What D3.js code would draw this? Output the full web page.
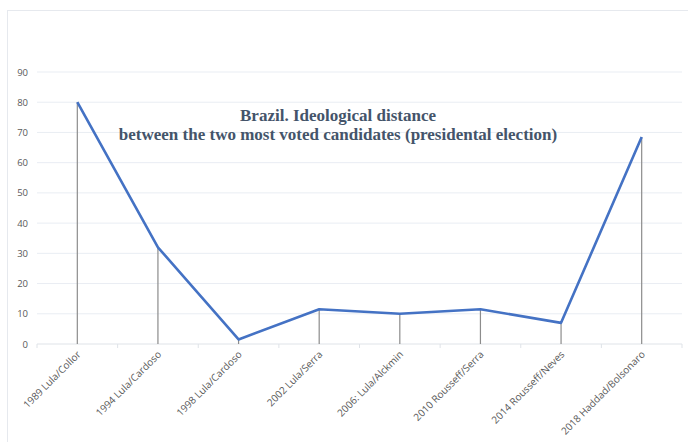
<!DOCTYPE html>
<html>
<head>
<meta charset="utf-8">
<script src="https://cdn.jsdelivr.net/npm/d3@7"></script>
<style>
  body { margin: 0; background: #fff; }
</style>
</head>
<body>
<div id="chart"></div>
<script>
const elections = ["1989 Lula/Collor", "1994 Lula/Cardoso", "1998 Lula/Cardoso", "2002 Lula/Serra",
  "2006: Lula/Alckmin", "2010 Rousseff/Serra", "2014 Rousseff/Neves", "2018 Haddad/Bolsonaro"]
const distance = [80, 32, 1.5, 11.5, 10, 11.5, 7, 68.5]
const yTicks = [0, 10, 20, 30, 40, 50, 60, 70, 80, 90]
const titleLines = ["Brazil. Ideological distance", "between the two most voted candidates (presidental election)"]

const W = 688, H = 442
const MARGIN = {TOP: 72, BOTTOM: 98, LEFT: 37, RIGHT: 6}

const svg = d3.select("#chart").append("svg")
  .attr("width", W).attr("height", H)

// chart frame
svg.append("rect")
  .attr("x", 7.5).attr("y", 10.5)
  .attr("width", W).attr("height", H)
  .attr("fill", "#fff").attr("stroke", "#e6e9ee")

const x = d3.scaleBand().domain(elections).range([MARGIN.LEFT, W - MARGIN.RIGHT]).padding(0)
const y = d3.scaleLinear().domain([0, 90]).range([H - MARGIN.BOTTOM, MARGIN.TOP])

// gridlines
svg.append("g")
  .selectAll("line").data(yTicks.filter(d => d > 0)).join("line")
  .attr("x1", MARGIN.LEFT).attr("x2", W - MARGIN.RIGHT)
  .attr("y1", d => y(d)).attr("y2", d => y(d))
  .attr("stroke", "#e9edf3").attr("stroke-width", 1)

// y axis labels
const yAxis = svg.append("g")
  .attr("transform", `translate(${MARGIN.LEFT},0)`)
  .call(d3.axisLeft(y).tickValues(yTicks).tickSize(0).tickPadding(9))
yAxis.select(".domain").remove()
yAxis.selectAll("text")
  .attr("font-family", "Open Sans, Liberation Sans, sans-serif")
  .attr("font-size", 9.5).attr("fill", "#595959")

// x axis: ticks at band edges
const bottom = svg.append("g").attr("transform", `translate(0,${y(0)})`)
bottom.append("line")
  .attr("x1", MARGIN.LEFT).attr("x2", W - MARGIN.RIGHT)
  .attr("stroke", "#dfe3e8")
bottom.selectAll(".edge").data(elections.concat(["end"])).join("line")
  .attr("class", "edge")
  .attr("x1", (d, i) => MARGIN.LEFT + i * x.bandwidth())
  .attr("x2", (d, i) => MARGIN.LEFT + i * x.bandwidth())
  .attr("y1", 0).attr("y2", 4)
  .attr("stroke", "#dfe3e8")

// category labels
bottom.selectAll(".lbl").data(elections).join("text")
  .attr("class", "lbl")
  .attr("transform", d => `translate(${x(d) + x.bandwidth() / 2 + 4},11) rotate(-45)`)
  .attr("text-anchor", "end")
  .attr("font-family", "Open Sans, Liberation Sans, sans-serif")
  .attr("font-size", 10).attr("fill", "#595959")
  .text(d => d)

const pts = elections.map((e, i) => ({name: e, value: distance[i]}))

// drop lines
svg.append("g").selectAll("line").data(pts).join("line")
  .attr("x1", d => x(d.name) + x.bandwidth() / 2)
  .attr("x2", d => x(d.name) + x.bandwidth() / 2)
  .attr("y1", d => y(d.value)).attr("y2", y(0))
  .attr("stroke", "#8c8c8c").attr("stroke-width", 1.2)

// the series line
const line = d3.line()
  .x(d => x(d.name) + x.bandwidth() / 2)
  .y(d => y(d.value))
svg.append("path").datum(pts)
  .attr("d", line)
  .attr("fill", "none")
  .attr("stroke", "#4472c4").attr("stroke-width", 2.6)
  .attr("stroke-linejoin", "round")

// title
svg.append("g").selectAll("text").data(titleLines).join("text")
  .attr("x", 338).attr("y", (d, i) => 121 + i * 19)
  .attr("text-anchor", "middle")
  .attr("font-family", "Liberation Serif, Times New Roman, serif")
  .attr("font-weight", "bold").attr("font-size", 17)
  .attr("fill", "#44546a")
  .text(d => d)
</script>
</body>
</html>
